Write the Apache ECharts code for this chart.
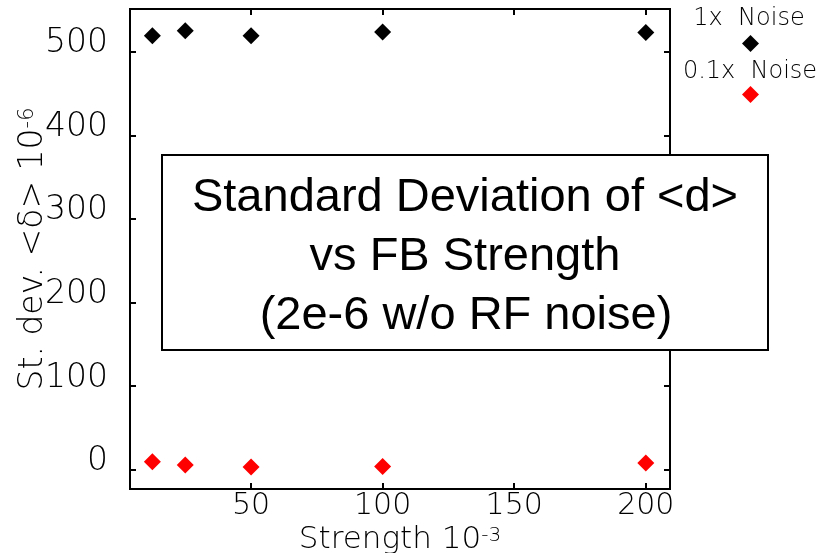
<!DOCTYPE html>
<html>
<head>
<meta charset="utf-8">
<script src="https://cdn.jsdelivr.net/npm/echarts@6/dist/echarts.min.js"></script>
<style>
  html, body { margin: 0; padding: 0; background: #fff; }
  #chart { width: 826px; height: 553px; }
</style>
</head>
<body>
<div id="chart"></div>
<script>
// strength values (x 10^-3)
const strength = [12.5, 25, 50, 100, 200];
// st. dev. of <delta> (x 10^-6)
const noise1x = [519, 525, 519, 523.5, 523];
const noise01x = [9.6, 5.6, 3.2, 3.9, 8.0];
const xTicks = [50, 100, 150, 200];
const yTicks = [0, 100, 200, 300, 400, 500];
const seriesNames = ['1x Noise', '0.1x Noise'];

const axisFont = 'DejaVu Sans';
const chart = echarts.init(document.getElementById('chart'), null, { renderer: 'canvas' });

const tickStyle = { show: true, inside: true, length: 6, lineStyle: { color: '#000', width: 2 } };

const option = {
  backgroundColor: '#fff',
  animation: false,
  grid: {
    left: 130, right: 156, top: 9, bottom: 64,
    outerBoundsMode: 'none', containLabel: false,
    show: true, borderColor: '#000', borderWidth: 2, backgroundColor: 'transparent'
  },
  legend: {
    orient: 'vertical',
    left: 742, top: 35,
    padding: 0,
    itemGap: 34,
    itemWidth: 17, itemHeight: 17,
    icon: 'diamond',
    formatter: () => '',
    data: seriesNames
  },
  xAxis: [
    {
      type: 'value', min: 4, max: 209.2, position: 'bottom',
      splitLine: { show: false },
      axisLine: { show: true, onZero: false, lineStyle: { color: '#000', width: 2 } },
      axisTick: Object.assign({ customValues: xTicks }, tickStyle),
      axisLabel: {
        customValues: xTicks, margin: 4, lineHeight: 26,
        fontFamily: axisFont, fontWeight: 200, fontSize: 30, color: '#000'
      },
      name: 'Strength 10{sup|-3}',
      nameLocation: 'middle', nameGap: 37, nameMoveOverlap: false,
      nameTextStyle: {
        fontFamily: axisFont, fontWeight: 200, fontSize: 31, color: '#000', lineHeight: 28,
        rich: { sup: { fontFamily: axisFont, fontWeight: 200, fontSize: 20, color: '#000', verticalAlign: 'top', lineHeight: 26 } }
      }
    },
    {
      type: 'value', min: 4, max: 209.2, position: 'top',
      splitLine: { show: false },
      axisLine: { show: false, onZero: false },
      axisTick: Object.assign({ customValues: xTicks }, tickStyle),
      axisLabel: { show: false }
    }
  ],
  yAxis: [
    {
      type: 'value', min: -23, max: 551, position: 'left',
      splitLine: { show: false },
      axisLine: { show: true, onZero: false, lineStyle: { color: '#000', width: 2 } },
      axisTick: Object.assign({ customValues: yTicks }, tickStyle),
      axisLabel: {
        customValues: yTicks, margin: 22,
        fontFamily: axisFont, fontWeight: 200, fontSize: 33, color: '#000',
        verticalAlign: 'bottom', lineHeight: 16
      },
      name: 'St. dev. <δ> 10{sup|-6}',
      nameLocation: 'middle', nameGap: 80, nameMoveOverlap: false,
      nameTextStyle: {
        fontFamily: axisFont, fontWeight: 200, fontSize: 33, color: '#000',
        rich: { sup: { fontFamily: axisFont, fontWeight: 200, fontSize: 21, color: '#000', verticalAlign: 'top', lineHeight: 30 } }
      }
    },
    {
      type: 'value', min: -23, max: 551, position: 'right',
      splitLine: { show: false },
      axisLine: { show: false, onZero: false },
      axisTick: Object.assign({ customValues: yTicks }, tickStyle),
      axisLabel: { show: false }
    }
  ],
  series: [
    {
      name: seriesNames[0], type: 'scatter',
      symbol: 'diamond', symbolSize: 17,
      itemStyle: { color: '#000', opacity: 1 },
      data: strength.map((s, i) => [s, noise1x[i]])
    },
    {
      name: seriesNames[1], type: 'scatter',
      symbol: 'diamond', symbolSize: 17,
      itemStyle: { color: '#ff0000', opacity: 1 },
      data: strength.map((s, i) => [s, noise01x[i]])
    }
  ],
  graphic: [
    // legend labels sit above their markers
    { type: 'text', z: 100, x: 749, y: 19,
      style: { text: '1x  Noise', fontFamily: axisFont, fontWeight: 200, fontSize: 24, fill: '#000', align: 'center', verticalAlign: 'middle' } },
    { type: 'text', z: 100, x: 750, y: 72,
      style: { text: '0.1x  Noise', fontFamily: axisFont, fontWeight: 200, fontSize: 24, fill: '#000', align: 'center', verticalAlign: 'middle' } },
    // annotation box over the plot
    { type: 'rect', z: 100,
      shape: { x: 162, y: 155, width: 606, height: 195 },
      style: { fill: '#fff', stroke: '#000', lineWidth: 2 } },
    { type: 'text', z: 101, x: 465, y: 198,
      style: { text: 'Standard Deviation of <d>', fontFamily: 'Liberation Sans', fontSize: 47, fill: '#000', align: 'center', verticalAlign: 'middle' } },
    { type: 'text', z: 101, x: 465, y: 257,
      style: { text: 'vs FB Strength', fontFamily: 'Liberation Sans', fontSize: 47, fill: '#000', align: 'center', verticalAlign: 'middle' } },
    { type: 'text', z: 101, x: 466, y: 316,
      style: { text: '(2e-6 w/o RF noise)', fontFamily: 'Liberation Sans', fontSize: 47, fill: '#000', align: 'center', verticalAlign: 'middle' } }
  ]
};

chart.setOption(option);
</script>
</body>
</html>
